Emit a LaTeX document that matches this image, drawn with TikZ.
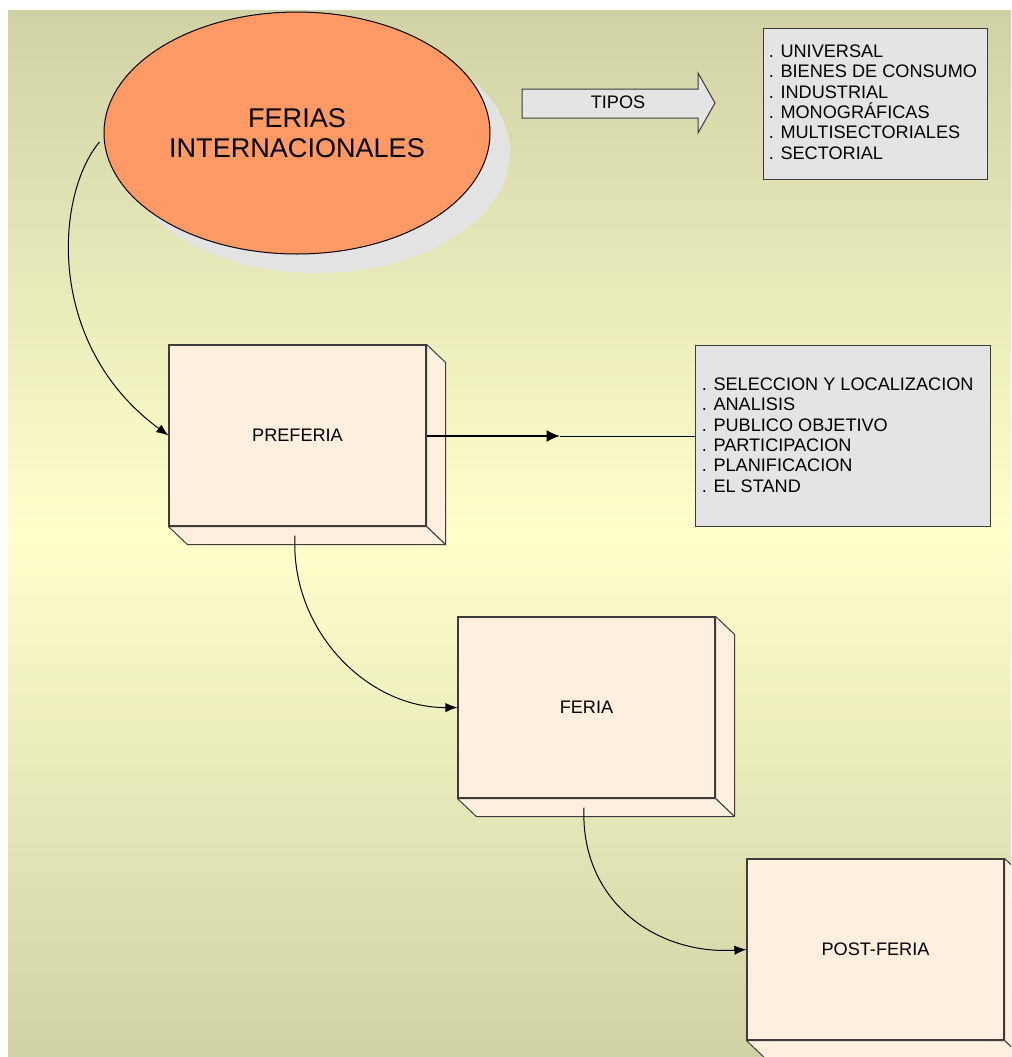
\documentclass[tikz,border=0pt]{standalone}
\usepackage{fontspec}
\setmainfont{Liberation Sans}
\usetikzlibrary{shapes.geometric,arrows.meta,calc}
\definecolor{bgolive}{RGB}{208,210,166}
\definecolor{bgyellow}{RGB}{255,255,204}
\definecolor{orangefill}{RGB}{255,153,102}
\definecolor{shadowgray}{RGB}{227,227,227}
\definecolor{boxgray}{RGB}{228,228,228}
\definecolor{peach}{RGB}{255,239,223}
\definecolor{edgecol}{RGB}{60,60,60}
\newcommand\boxsides[1]{%
  \filldraw[sideface] (#1.north east) -- ++(19,18) -- ($(#1.south east)+(19,18)$) -- (#1.south east) -- cycle;
  \filldraw[sideface] (#1.south west) -- ($(#1.south west)+(19,18)$) -- ($(#1.south east)+(19,18)$) -- (#1.south east) -- cycle;}
\begin{document}
\begin{tikzpicture}[x=0.75pt,y=-0.75pt,
  txt/.style={font=\fontsize{13.6}{15.3}\selectfont, inner sep=0pt},
  frontface/.style={draw=edgecol, fill=peach, line width=0.85pt, minimum width=192.75pt, minimum height=135.75pt, inner sep=0pt, font=\fontsize{13.6}{15.3}\selectfont},
  sideface/.style={draw=edgecol, fill=peach, line width=0.75pt, line join=round},
  listbox/.style={draw=edgecol, fill=boxgray, line width=0.75pt, inner sep=0pt},
  conn/.style={line width=0.75pt, -{Latex[length=9pt,width=7pt]}},
  thickconn/.style={line width=1.5pt, -{Latex[length=10pt,width=9pt]}}]
\useasboundingbox (0,0) rectangle (1011,1057);
\clip (0,0) rectangle (1011,1057);
\fill[white] (0,0) rectangle (1011,1057);
\shade[top color=bgolive, bottom color=bgolive, middle color=bgyellow] (8,10) rectangle (1011,1057);

% main ellipse with shadow
\fill[shadowgray] (317,152) ellipse [x radius=144.75pt, y radius=90.75pt];
\node[ellipse, draw=black, line width=0.75pt, fill=orangefill, minimum width=289.5pt, minimum height=181.5pt, inner sep=0pt, align=center, font=\fontsize{20.3}{22.5}\selectfont] (fi) at (297,133) {FERIAS\\INTERNACIONALES};

% TIPOS block arrow
\filldraw[fill=boxgray, draw=edgecol, line width=0.75pt] (522,89) -- (698,89) -- (698,73) -- (715,103) -- (698,133) -- (698,118) -- (522,118) -- cycle;
\node[txt] (tipos) at (618,102) {TIPOS};

% list of types
\node[listbox, minimum width=168pt, minimum height=113.25pt] (tl) at (875,103.5) {};
\node[txt, anchor=west, align=left] (tlt) at ($(tl.west)+(6,-1.5)$) {. UNIVERSAL\\. BIENES DE CONSUMO\\. INDUSTRIAL\\. MONOGRÁFICAS\\. MULTISECTORIALES\\. SECTORIAL};

% list of preferia
\node[listbox, minimum width=221.25pt, minimum height=135.75pt] (pl) at (842.5,435.5) {};
\node[txt, anchor=west, align=left] (plt) at ($(pl.west)+(7,-0.5)$) {. SELECCION Y LOCALIZACION\\. ANALISIS\\. PUBLICO OBJETIVO\\. PARTICIPACION\\. PLANIFICACION\\. EL STAND};

% 3D boxes
\node[frontface] (pre) at (297.5,435.5) {PREFERIA};
\boxsides{pre}
\node[frontface] (fer) at (586.5,707.5) {FERIA};
\boxsides{fer}
\node[frontface] (post) at (875.5,949.5) {POST-FERIA};
\boxsides{post}

% connectors
\coordinate (midarrow) at (560,436);
\draw[conn] ($(fi.west)+(-4,9)$) .. controls (55,195) and (45,345) .. (pre.west);
\draw[thickconn] (pre.east |- midarrow) -- (midarrow);
\draw[line width=0.75pt] (midarrow) -- (midarrow -| pl.west);
\draw[conn] ($(pre.south)+(-2.5,9)$) .. controls (290,630) and (367,708) .. (fer.west);
\draw[conn] ($(fer.south)+(-2.5,9)$) .. controls (580,900) and (655,955) .. (post.west);
\end{tikzpicture}
\end{document}
